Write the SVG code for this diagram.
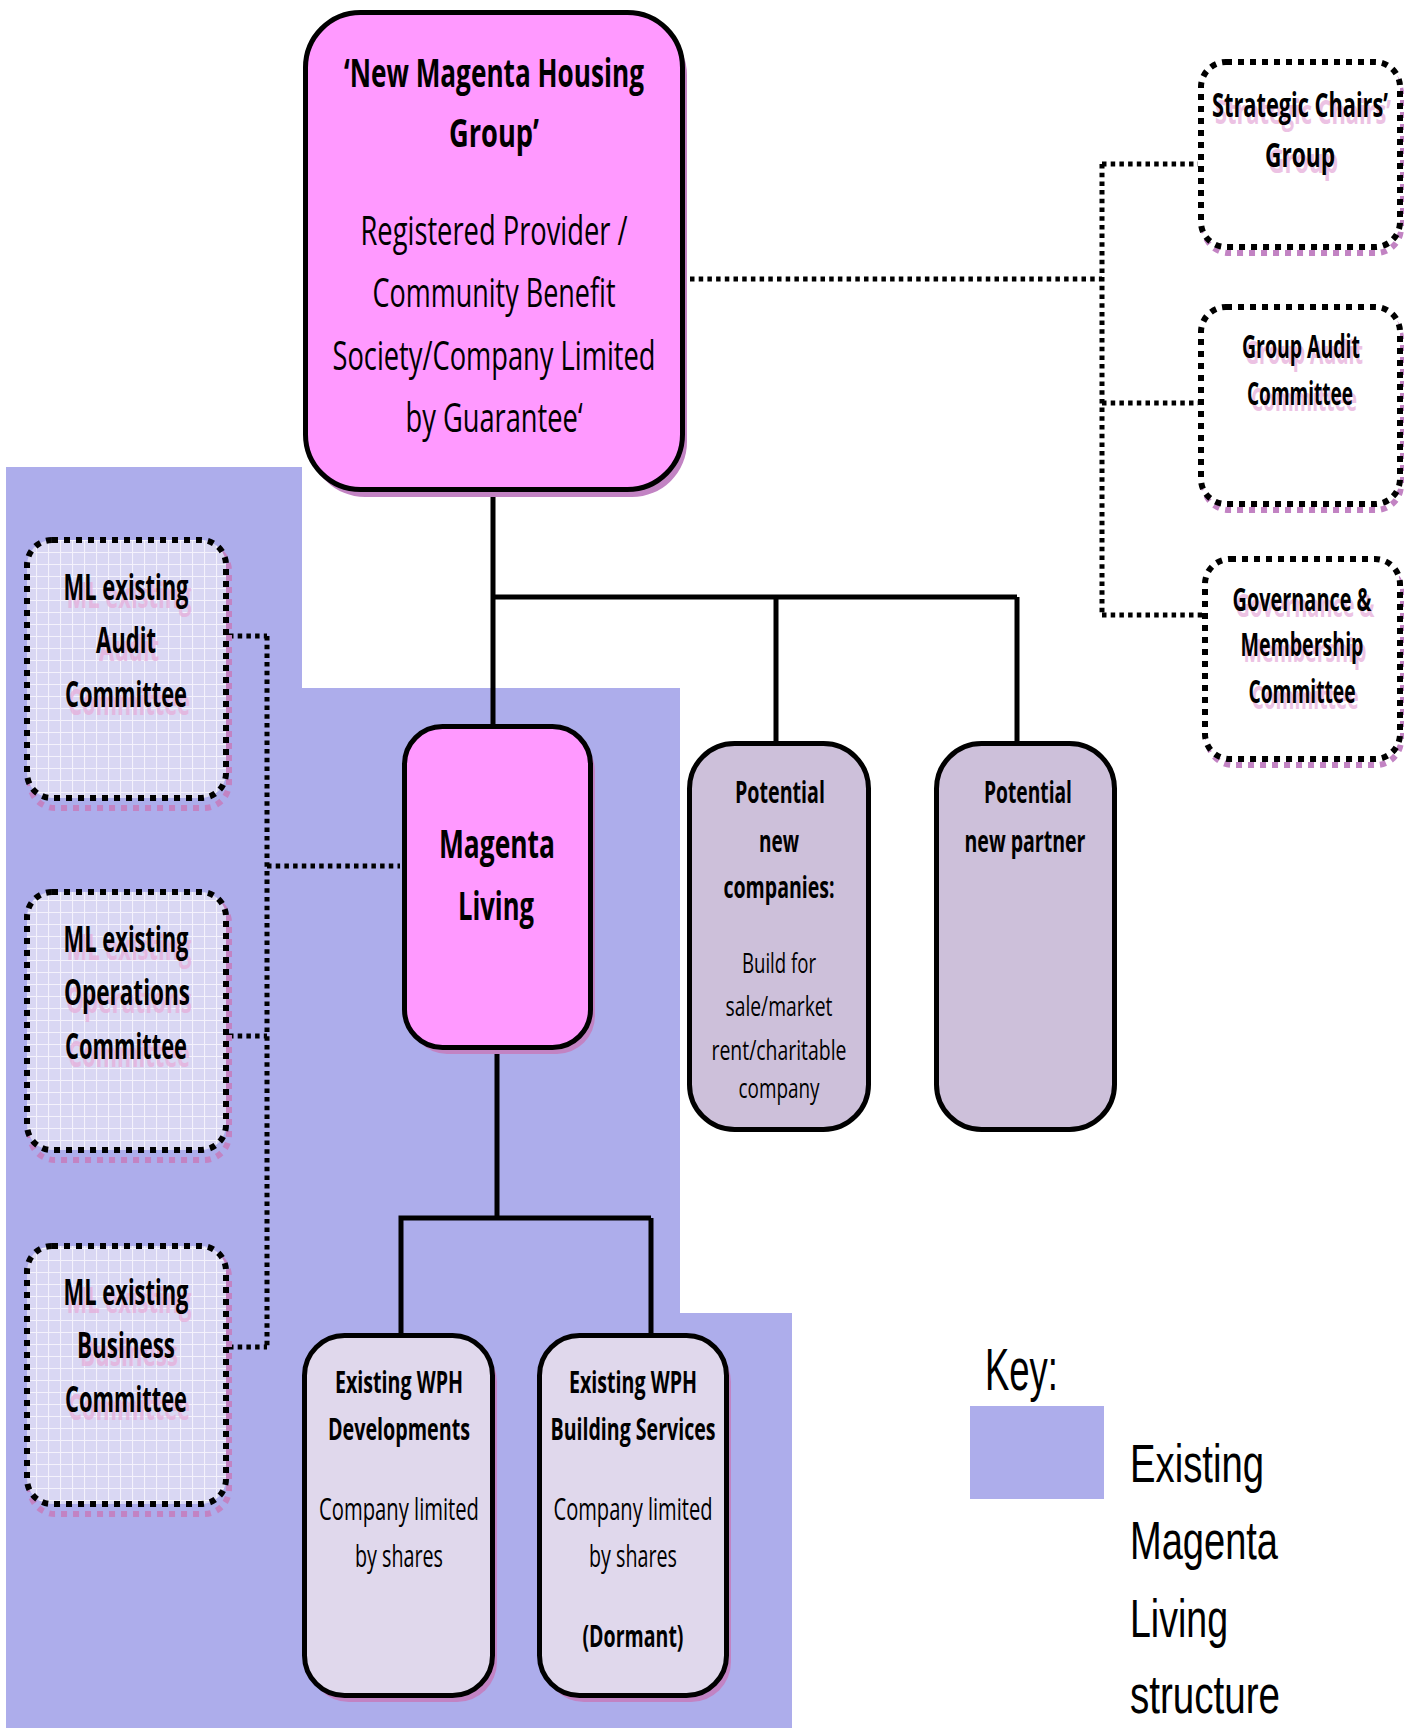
<svg xmlns="http://www.w3.org/2000/svg" width="1414" height="1728" viewBox="0 0 1414 1728">
<defs>
<pattern id="grid" width="12" height="12" patternUnits="userSpaceOnUse">
<rect width="12" height="12" fill="#D9D7F3"/>
<path d="M0 0.5H12M0.5 0V12" stroke="#F4F2FC" stroke-width="1.2" fill="none"/>
</pattern>
</defs>
<style>
.t{font-family:"Open Sans","Liberation Sans",sans-serif;fill:#000;text-anchor:middle}
.b{font-weight:bold}
.g{fill:#E6AEDA;opacity:0.75}
.solid{stroke:#000;stroke-width:5}
.sh{fill:#C283C3}
.pink{fill:#FF99FF}
.grey{fill:#CDC0DA}
.pale{fill:#E0D8EC}
.dbox{stroke:#000;stroke-width:6;stroke-dasharray:6 6}
.dsh{fill:none;stroke:#C283C3;stroke-width:6;stroke-dasharray:6 6}
.conn{fill:none;stroke:#000;stroke-width:5}
.dconn{fill:none;stroke:#000;stroke-width:5;stroke-dasharray:4.5 4.2}
.k{font-family:"Liberation Sans",Arial,sans-serif;fill:#000}
</style>
<rect width="1414" height="1728" fill="#FFFFFF"/>
<path id="existing-area" d="M6 467H302V688H680V1313H792V1728H6Z" fill="#ADADEB"/>

<g id="connectors">
<path class="conn" d="M493 492V724M493 597H1017M776 597V741M1017 597V741"/>
<path class="conn" d="M497 1050V1218M398.5 1218H651M401 1218V1333M651 1218V1333"/>
<path class="dconn" d="M690 279H1102M1102 164V615M1102 164H1198M1102 403H1198M1102 615H1202"/>
<path class="dconn" d="M229 636H267M229 1036H267M229 1347H267M267 636V1347M267 866H400"/>
</g>

<g id="new-magenta-housing-group">
<rect x="310" y="20" width="377" height="477" rx="55" class="sh"/>
<rect x="305.5" y="12.5" width="377" height="477" rx="55" class="pink solid"/>
<text class="t b" x="494" y="87" font-size="40" textLength="300" lengthAdjust="spacingAndGlyphs">‘New Magenta Housing</text>
<text class="t b" x="494" y="147" font-size="40" textLength="90" lengthAdjust="spacingAndGlyphs">Group’</text>
<text class="t" x="494" y="245" font-size="40" textLength="267" lengthAdjust="spacingAndGlyphs">Registered Provider /</text>
<text class="t" x="494" y="307" font-size="40" textLength="243" lengthAdjust="spacingAndGlyphs">Community Benefit</text>
<text class="t" x="494" y="370" font-size="40" textLength="323" lengthAdjust="spacingAndGlyphs">Society/Company Limited</text>
<text class="t" x="494" y="432" font-size="40" textLength="177" lengthAdjust="spacingAndGlyphs">by Guarantee‘</text>
</g>

<g id="strategic-chairs-group">
<rect x="1204" y="69" width="197" height="184" rx="25" class="dsh"/>
<rect x="1201" y="62" width="199" height="185" rx="25" fill="#FFFFFF" class="dbox"/>
<text class="t b g" x="1303" y="124" font-size="34" textLength="176" lengthAdjust="spacingAndGlyphs">Strategic Chairs’</text>
<text class="t b g" x="1303" y="173" font-size="34" textLength="70" lengthAdjust="spacingAndGlyphs">Group</text>
<text class="t b" x="1300" y="117" font-size="34" textLength="176" lengthAdjust="spacingAndGlyphs">Strategic Chairs’</text>
<text class="t b" x="1300" y="167" font-size="34" textLength="70" lengthAdjust="spacingAndGlyphs">Group</text>
</g>

<g id="group-audit-committee">
<rect x="1204" y="314" width="197" height="196" rx="25" class="dsh"/>
<rect x="1201" y="307" width="199" height="197" rx="25" fill="#FFFFFF" class="dbox"/>
<text class="t b g" x="1304" y="364" font-size="33" textLength="118" lengthAdjust="spacingAndGlyphs">Group Audit</text>
<text class="t b g" x="1304" y="411" font-size="33" textLength="106" lengthAdjust="spacingAndGlyphs">Committee</text>
<text class="t b" x="1301" y="358" font-size="33" textLength="118" lengthAdjust="spacingAndGlyphs">Group Audit</text>
<text class="t b" x="1300" y="405" font-size="33" textLength="106" lengthAdjust="spacingAndGlyphs">Committee</text>
</g>

<g id="governance-membership-committee">
<rect x="1208" y="566" width="193" height="199" rx="25" class="dsh"/>
<rect x="1205" y="559" width="195" height="200" rx="25" fill="#FFFFFF" class="dbox"/>
<text class="t b g" x="1305" y="617" font-size="33" textLength="139" lengthAdjust="spacingAndGlyphs">Governance &amp;</text>
<text class="t b g" x="1305" y="662" font-size="33" textLength="123" lengthAdjust="spacingAndGlyphs">Membership</text>
<text class="t b g" x="1305" y="709" font-size="33" textLength="107" lengthAdjust="spacingAndGlyphs">Committee</text>
<text class="t b" x="1302" y="611" font-size="33" textLength="139" lengthAdjust="spacingAndGlyphs">Governance &amp;</text>
<text class="t b" x="1302" y="656" font-size="33" textLength="123" lengthAdjust="spacingAndGlyphs">Membership</text>
<text class="t b" x="1302" y="703" font-size="33" textLength="107" lengthAdjust="spacingAndGlyphs">Committee</text>
</g>

<g id="ml-audit-committee">
<rect x="30" y="546" width="199" height="262" rx="25" class="dsh"/>
<rect x="27" y="540" width="199" height="258" rx="25" fill="url(#grid)" class="dbox"/>
<text class="t b g" x="129" y="608" font-size="35" textLength="125" lengthAdjust="spacingAndGlyphs">ML existing</text>
<text class="t b g" x="129" y="661" font-size="35" textLength="60" lengthAdjust="spacingAndGlyphs">Audit</text>
<text class="t b g" x="129" y="715" font-size="35" textLength="122" lengthAdjust="spacingAndGlyphs">Committee</text>
<text class="t b" x="126" y="600" font-size="35" textLength="125" lengthAdjust="spacingAndGlyphs">ML existing</text>
<text class="t b" x="126" y="653" font-size="35" textLength="60" lengthAdjust="spacingAndGlyphs">Audit</text>
<text class="t b" x="126" y="707" font-size="35" textLength="122" lengthAdjust="spacingAndGlyphs">Committee</text>
</g>

<g id="ml-operations-committee">
<rect x="30" y="898" width="199" height="262" rx="25" class="dsh"/>
<rect x="27" y="892" width="199" height="258" rx="25" fill="url(#grid)" class="dbox"/>
<text class="t b g" x="129" y="960" font-size="35" textLength="125" lengthAdjust="spacingAndGlyphs">ML existing</text>
<text class="t b g" x="129" y="1013" font-size="35" textLength="126" lengthAdjust="spacingAndGlyphs">Operations</text>
<text class="t b g" x="129" y="1067" font-size="35" textLength="122" lengthAdjust="spacingAndGlyphs">Committee</text>
<text class="t b" x="126" y="952" font-size="35" textLength="125" lengthAdjust="spacingAndGlyphs">ML existing</text>
<text class="t b" x="127" y="1005" font-size="35" textLength="126" lengthAdjust="spacingAndGlyphs">Operations</text>
<text class="t b" x="126" y="1059" font-size="35" textLength="122" lengthAdjust="spacingAndGlyphs">Committee</text>
</g>

<g id="ml-business-committee">
<rect x="30" y="1252" width="199" height="262" rx="25" class="dsh"/>
<rect x="27" y="1246" width="199" height="258" rx="25" fill="url(#grid)" class="dbox"/>
<text class="t b g" x="129" y="1313" font-size="35" textLength="125" lengthAdjust="spacingAndGlyphs">ML existing</text>
<text class="t b g" x="129" y="1366" font-size="35" textLength="98" lengthAdjust="spacingAndGlyphs">Business</text>
<text class="t b g" x="129" y="1420" font-size="35" textLength="122" lengthAdjust="spacingAndGlyphs">Committee</text>
<text class="t b" x="126" y="1305" font-size="35" textLength="125" lengthAdjust="spacingAndGlyphs">ML existing</text>
<text class="t b" x="126" y="1358" font-size="35" textLength="98" lengthAdjust="spacingAndGlyphs">Business</text>
<text class="t b" x="126" y="1412" font-size="35" textLength="122" lengthAdjust="spacingAndGlyphs">Committee</text>
</g>

<g id="magenta-living">
<rect x="409" y="733" width="186" height="321" rx="38" class="sh"/>
<rect x="404.5" y="726.5" width="186" height="321" rx="38" class="pink solid"/>
<text class="t b" x="497" y="858" font-size="40" textLength="116" lengthAdjust="spacingAndGlyphs">Magenta</text>
<text class="t b" x="496" y="920" font-size="40" textLength="76" lengthAdjust="spacingAndGlyphs">Living</text>
</g>

<g id="potential-new-companies">
<rect x="689.5" y="743.5" width="179" height="386" rx="45" class="grey solid"/>
<text class="t b" x="780" y="803" font-size="31" textLength="90" lengthAdjust="spacingAndGlyphs">Potential</text>
<text class="t b" x="779" y="852" font-size="31" textLength="40" lengthAdjust="spacingAndGlyphs">new</text>
<text class="t b" x="779" y="898" font-size="31" textLength="111" lengthAdjust="spacingAndGlyphs">companies:</text>
<text class="t" x="779" y="973" font-size="28" textLength="74" lengthAdjust="spacingAndGlyphs">Build for</text>
<text class="t" x="779" y="1016" font-size="28" textLength="107" lengthAdjust="spacingAndGlyphs">sale/market</text>
<text class="t" x="779" y="1060" font-size="28" textLength="135" lengthAdjust="spacingAndGlyphs">rent/charitable</text>
<text class="t" x="779" y="1098" font-size="28" textLength="81" lengthAdjust="spacingAndGlyphs">company</text>
</g>

<g id="potential-new-partner">
<rect x="936.5" y="743.5" width="178" height="386" rx="45" class="grey solid"/>
<text class="t b" x="1028" y="803" font-size="31" textLength="88" lengthAdjust="spacingAndGlyphs">Potential</text>
<text class="t b" x="1025" y="852" font-size="31" textLength="121" lengthAdjust="spacingAndGlyphs">new partner</text>
</g>

<g id="wph-developments">
<rect x="309" y="1342" width="188" height="360" rx="40" class="sh"/>
<rect x="304.5" y="1335.5" width="188" height="360" rx="40" class="pale solid"/>
<text class="t b" x="399" y="1393" font-size="31" textLength="128" lengthAdjust="spacingAndGlyphs">Existing WPH</text>
<text class="t b" x="399" y="1440" font-size="31" textLength="142" lengthAdjust="spacingAndGlyphs">Developments</text>
<text class="t" x="399" y="1520" font-size="31" textLength="160" lengthAdjust="spacingAndGlyphs">Company limited</text>
<text class="t" x="399" y="1567" font-size="31" textLength="88" lengthAdjust="spacingAndGlyphs">by shares</text>
</g>

<g id="wph-building-services">
<rect x="544" y="1342" width="187" height="360" rx="40" class="sh"/>
<rect x="539.5" y="1335.5" width="187" height="360" rx="40" class="pale solid"/>
<text class="t b" x="633" y="1393" font-size="31" textLength="128" lengthAdjust="spacingAndGlyphs">Existing WPH</text>
<text class="t b" x="633" y="1440" font-size="31" textLength="165" lengthAdjust="spacingAndGlyphs">Building Services</text>
<text class="t" x="633" y="1520" font-size="31" textLength="159" lengthAdjust="spacingAndGlyphs">Company limited</text>
<text class="t" x="633" y="1567" font-size="31" textLength="88" lengthAdjust="spacingAndGlyphs">by shares</text>
<text class="t b" x="633" y="1647" font-size="31" textLength="101" lengthAdjust="spacingAndGlyphs">(Dormant)</text>
</g>

<g id="key">
<text class="k" x="985" y="1390" font-size="60" textLength="73" lengthAdjust="spacingAndGlyphs">Key:</text>
<rect x="970" y="1406" width="134" height="93" fill="#ADADEB"/>
<text class="k" x="1130" y="1482" font-size="53" textLength="134" lengthAdjust="spacingAndGlyphs">Existing</text>
<text class="k" x="1130" y="1559" font-size="53" textLength="148" lengthAdjust="spacingAndGlyphs">Magenta</text>
<text class="k" x="1130" y="1637" font-size="53" textLength="98" lengthAdjust="spacingAndGlyphs">Living</text>
<text class="k" x="1130" y="1713" font-size="53" textLength="150" lengthAdjust="spacingAndGlyphs">structure</text>
</g>
</svg>
